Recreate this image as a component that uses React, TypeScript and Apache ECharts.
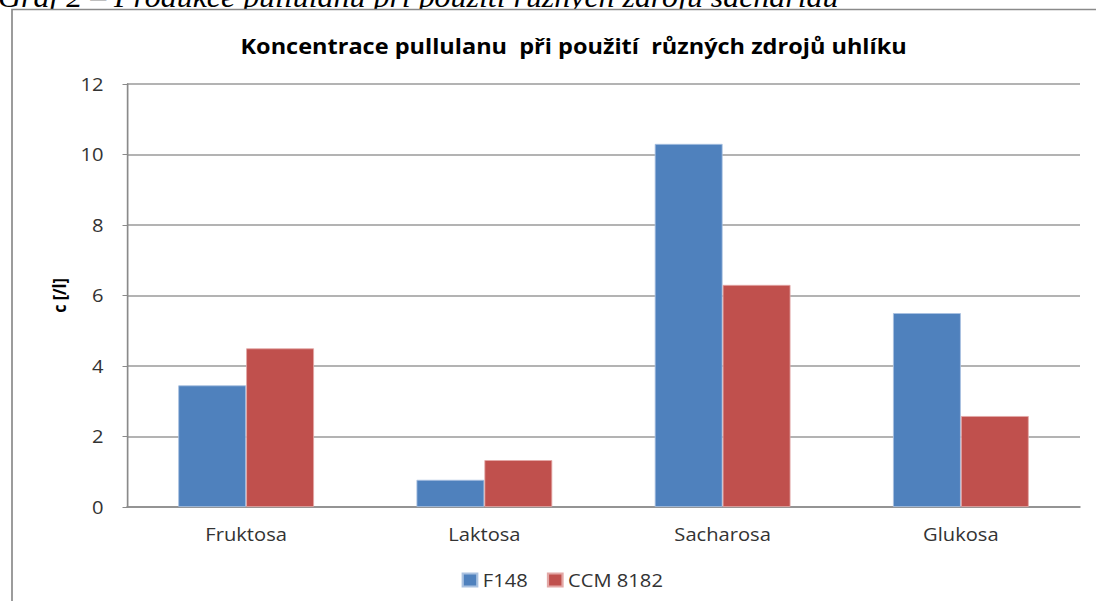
import React, { useEffect, useRef } from "react";
import * as echarts from "echarts";

const categories = ["Fruktosa", "Laktosa", "Sacharosa", "Glukosa"];
const seriesF148 = [3.45, 0.77, 10.3, 5.5];
const seriesCCM = [4.5, 1.33, 6.3, 2.58];
const seriesNames = ["F148", "CCM 8182"];
const chartTitle = "Koncentrace pullulanu  při použití  různých zdrojů uhlíku";
const caption = "Graf 2 – Produkce pullulanu při použití různých zdrojů sacharidů";
const yName = "c [/l]";

const PAGE_W = 1096;
const PAGE_H = 601;
const INNER_W = 979;
const SX = PAGE_W / INNER_W;

export default function App() {
  const ref = useRef<HTMLDivElement>(null);
  useEffect(() => {
    if (!ref.current) return;
    const chart = echarts.init(ref.current, null, { renderer: "svg" });
    const font = "'Open Sans', 'Noto Sans', sans-serif";
    chart.setOption({
      animation: false,
      backgroundColor: "#ffffff",
      title: {
        text: chartTitle,
        left: 568 / SX,
        top: 30,
        textAlign: "center",
        textStyle: { fontFamily: font, fontSize: 21, fontWeight: "bold", color: "#000" },
      },
      graphic: [
        {
          type: "text",
          x: -2 / SX,
          y: 12,
          z: 1,
          style: {
            text: caption,
            fontFamily: "'Liberation Serif', 'DejaVu Serif', serif",
            fontStyle: "italic",
            fontSize: 28.5,
            fill: "#000",
            verticalAlign: "bottom",
          },
          silent: true,
        },
        {
          type: "rect",
          z: 2,
          shape: { x: 12 / SX, y: 9.5, width: 1200, height: 700 },
          style: { fill: "#ffffff", stroke: "#8a8a8a", lineWidth: 1.5 },
          silent: true,
        },
      ],
      legend: {
        data: seriesNames,
        left: 456 / SX,
        top: 566,
        itemWidth: 13,
        itemHeight: 13,
        itemGap: 17,
        icon: "rect",
        textStyle: { fontFamily: font, fontSize: 18, color: "#333" },
      },
      grid: { left: 127 / SX, right: 16 / SX, top: 84, bottom: 94 },
      xAxis: {
        type: "category",
        data: categories,
        z: 5,
        axisLine: { show: true, lineStyle: { color: "#8a8a8a", width: 1.5 } },
        axisTick: { show: false },
        axisLabel: { fontFamily: font, fontSize: 18, color: "#333", margin: 18 },
      },
      yAxis: {
        type: "value",
        min: 0,
        max: 12,
        interval: 2,
        z: 5,
        name: yName,
        nameLocation: "middle",
        nameRotate: 90,
        nameGap: 52,
        nameTextStyle: { fontFamily: font, fontSize: 16, fontWeight: "bold", color: "#000" },
        axisLine: { show: true, lineStyle: { color: "#8a8a8a", width: 1.5 } },
        axisTick: { show: true, length: 4, lineStyle: { color: "#8a8a8a" } },
        axisLabel: { fontFamily: font, fontSize: 18, color: "#333", margin: 21 },
        splitLine: { show: true, lineStyle: { color: "#9a9a9a", width: 1.5 } },
      },
      series: [
        {
          name: seriesNames[0],
          type: "bar",
          z: 6,
          data: seriesF148,
          barGap: "0%",
          barCategoryGap: "43%",
          itemStyle: { color: "#4F81BD", borderColor: "#a9c1e0", borderWidth: 0.8 },
        },
        {
          name: seriesNames[1],
          type: "bar",
          z: 6,
          data: seriesCCM,
          itemStyle: { color: "#C0504D", borderColor: "#e3a8a6", borderWidth: 0.8 },
        },
      ],
    });
    return () => chart.dispose();
  }, []);
  return (
    <div
      ref={ref}
      style={{
        position: "fixed",
        left: 0,
        top: 0,
        width: INNER_W,
        height: PAGE_H,
        transform: `scaleX(${SX})`,
        transformOrigin: "0 0",
      }}
    />
  );
}
